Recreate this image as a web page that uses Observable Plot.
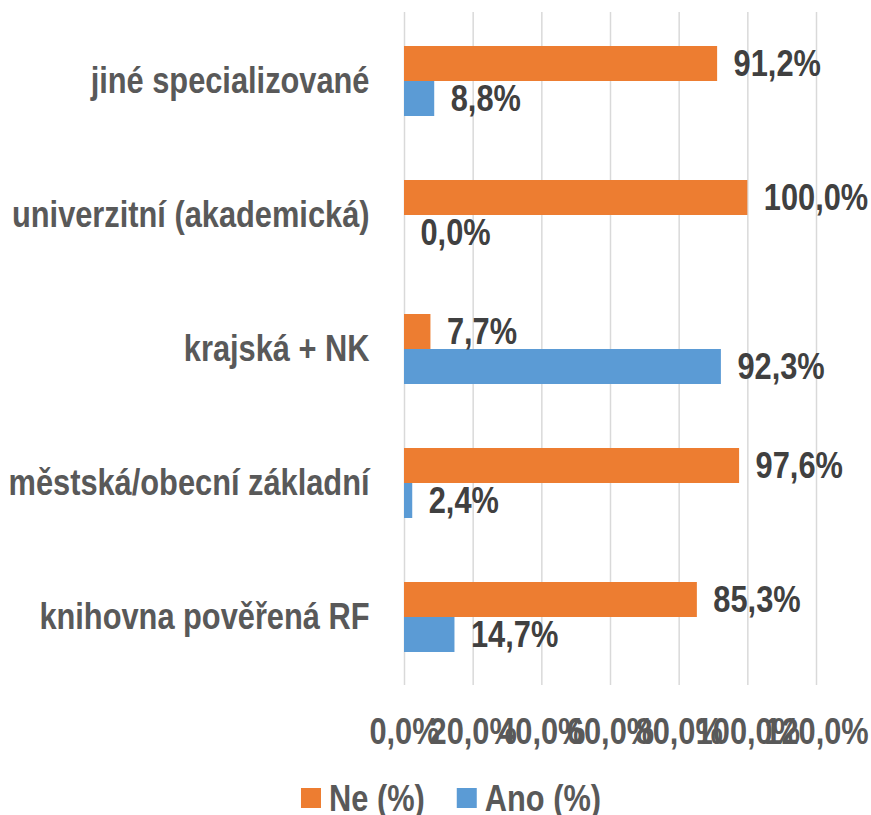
<!DOCTYPE html>
<html>
<head>
<meta charset="utf-8">
<script src="https://cdn.jsdelivr.net/npm/d3@7"></script>
<script src="https://cdn.jsdelivr.net/npm/@observablehq/plot@0.6"></script>
<style>
  html, body { margin: 0; padding: 0; background: #fff; }
  svg text { font-weight: bold; }
</style>
</head>
<body>
<div id="chart"></div>
<script>
const categories = ["jiné specializované", "univerzitní (akademická)", "krajská + NK", "městská/obecní základní", "knihovna pověřená RF"];
const neValues = [91.2, 100.0, 7.7, 97.6, 85.3];
const anoValues = [8.8, 0.0, 92.3, 2.4, 14.7];
const xTicks = [0, 20, 40, 60, 80, 100, 120];
const seriesNames = ["Ne (%)", "Ano (%)"];
const seriesColors = ["#ED7D31", "#5B9BD5"];

const fmt = v => v.toFixed(1).replace(".", ",") + "%";
const ne = categories.map((c, i) => ({category: c, value: neValues[i]}));
const ano = categories.map((c, i) => ({category: c, value: anoValues[i]}));

const font = "'Liberation Sans Narrow', 'Arial Narrow', 'Liberation Sans', Arial, sans-serif";
const NARROW = 0.855;

function narrowTexts(svg) {
  svg.querySelectorAll("text").forEach(t => {
    const targets = t.querySelectorAll("tspan").length ? t.querySelectorAll("tspan") : [t];
    targets.forEach(el => {
      const len = el.getComputedTextLength();
      if (len > 0) {
        el.setAttribute("textLength", (len * NARROW).toFixed(2));
        el.setAttribute("lengthAdjust", "spacingAndGlyphs");
      }
    });
  });
}

const chart = Plot.plot({
  width: 871,
  height: 760,
  marginLeft: 404,
  marginRight: 55,
  marginTop: 12,
  marginBottom: 75,
  style: {fontFamily: font, fontSize: "36px", color: "#595959", background: "#fff", overflow: "visible"},
  x: {domain: [0, 120], ticks: xTicks},
  y: {domain: categories, paddingInner: 0.48, paddingOuter: 0.24},
  marks: [
    Plot.gridX(xTicks, {stroke: "#D9D9D9", strokeOpacity: 1, strokeWidth: 1.5}),
    Plot.barX(ne, {x: "value", y: "category", fill: seriesColors[0], insetBottom: 35}),
    Plot.barX(ano, {x: "value", y: "category", fill: seriesColors[1], insetTop: 35}),
    Plot.text(ne, {x: "value", y: "category", text: d => fmt(d.value), dy: -17.5, dx: 16, textAnchor: "start", fill: "#404040", fontSize: 36, fontWeight: "bold"}),
    Plot.text(ano, {x: "value", y: "category", text: d => fmt(d.value), dy: 17.5, dx: 16, textAnchor: "start", fill: "#404040", fontSize: 36, fontWeight: "bold"}),
    Plot.axisX(xTicks, {tickSize: 0, tickPadding: 33, tickFormat: fmt, fontSize: 36, label: null}),
    Plot.axisY({tickSize: 0, tickPadding: 35, fontSize: 36, label: null})
  ]
});
document.getElementById("chart").appendChild(chart);
narrowTexts(chart);

// legend (below the chart svg)
const lg = d3.select("#chart").append("svg")
  .attr("width", 871).attr("height", 55)
  .style("display", "block")
  .style("font-family", font).style("font-size", "36px").style("font-weight", "bold");
const items = [];
let xpos = 0;
seriesNames.forEach((name, i) => {
  const g = lg.append("g");
  g.append("rect").attr("x", 0).attr("y", 28).attr("width", 20).attr("height", 20).attr("fill", seriesColors[i]);
  const t = g.append("text").attr("x", 28).attr("y", 51).attr("fill", "#595959").text(name);
  const w = t.node().getComputedTextLength() * NARROW;
  t.attr("textLength", w.toFixed(2)).attr("lengthAdjust", "spacingAndGlyphs");
  items.push({g, x: xpos});
  xpos += 28 + w + (i < seriesNames.length - 1 ? 32 : 0);
});
const start = 451 - xpos / 2;
items.forEach(it => it.g.attr("transform", `translate(${start + it.x},0)`));
</script>
</body>
</html>
